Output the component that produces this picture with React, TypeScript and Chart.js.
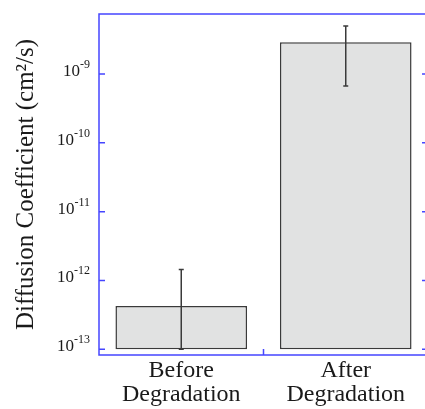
import React, { useEffect, useRef } from 'react';
import { Chart, registerables } from 'chart.js';
Chart.register(...registerables);

const CATEGORIES = [['Before', 'Degradation'], ['After', 'Degradation']];
const VALUES = [4.26e-13, 2.89e-9];
const ERR_LOW = [1e-13, 6.7e-10];
const ERR_HIGH = [1.44e-12, 4.99e-9];
const BAR_BASE = 1e-13;
const Y_MIN = 8.26e-14;
const Y_MAX = 7.45e-9;
const Y_TICKS = [1e-13, 1e-12, 1e-11, 1e-10, 1e-9];
const Y_TICK_EXPONENTS = ['-13', '-12', '-11', '-10', '-9'];
const Y_TITLE = 'Diffusion Coefficient (cm²/s)';

const FONT = "'Liberation Serif', 'Times New Roman', serif";
const AXIS_COLOR = 'rgb(70,70,255)';
const TEXT_COLOR = '#1a1a1a';

const framePlugin = {
  id: 'frameAndErrors',
  afterDatasetsDraw(chart: any) {
    const { ctx } = chart;
    const x = chart.scales.x;
    const y = chart.scales.y;
    ctx.save();
    ctx.strokeStyle = '#3a3a3a';
    ctx.lineWidth = 1.5;
    VALUES.forEach((_, i) => {
      const px = x.getPixelForValue(i);
      const top = y.getPixelForValue(ERR_HIGH[i]);
      const bot = y.getPixelForValue(ERR_LOW[i]);
      ctx.beginPath();
      ctx.moveTo(px, top);
      ctx.lineTo(px, bot);
      ctx.moveTo(px - 2.5, top);
      ctx.lineTo(px + 2.5, top);
      ctx.moveTo(px - 2.5, bot);
      ctx.lineTo(px + 2.5, bot);
      ctx.stroke();
    });
    ctx.restore();
  },
  afterDraw(chart: any) {
    const { ctx, chartArea: a } = chart;
    const x = chart.scales.x;
    const y = chart.scales.y;
    ctx.save();
    ctx.strokeStyle = AXIS_COLOR;
    ctx.lineWidth = 1.5;
    ctx.beginPath();
    ctx.rect(a.left, a.top, a.right - a.left, a.bottom - a.top);
    ctx.stroke();
    ctx.beginPath();
    Y_TICKS.forEach((t) => {
      const py = y.getPixelForValue(t);
      ctx.moveTo(a.left, py);
      ctx.lineTo(a.left + 6, py);
      ctx.moveTo(a.right, py);
      ctx.lineTo(a.right - 6, py);
    });
    for (let i = 0; i < CATEGORIES.length - 1; i++) {
      const px = x.getPixelForValue(i + 0.5);
      ctx.moveTo(px, a.bottom);
      ctx.lineTo(px, a.bottom - 6);
    }
    ctx.stroke();

    ctx.fillStyle = TEXT_COLOR;
    ctx.textBaseline = 'alphabetic';
    ctx.textAlign = 'left';
    const right = a.left - 9;
    Y_TICKS.forEach((t, i) => {
      const py = y.getPixelForValue(t);
      ctx.font = `12px ${FONT}`;
      const wExp = ctx.measureText(Y_TICK_EXPONENTS[i]).width;
      ctx.font = `17px ${FONT}`;
      const wBase = ctx.measureText('10').width;
      ctx.fillText('10', right - wExp - wBase, py + 2);
      ctx.font = `12px ${FONT}`;
      ctx.fillText(Y_TICK_EXPONENTS[i], right - wExp, py - 6);
    });
    ctx.restore();
  },
};

export default function App() {
  const ref = useRef<HTMLCanvasElement>(null);
  useEffect(() => {
    if (!ref.current) return;
    const chart = new Chart(ref.current, {
      type: 'bar',
      data: {
        labels: CATEGORIES as any,
        datasets: [
          {
            data: VALUES,
            base: BAR_BASE,
            backgroundColor: '#e1e2e2',
            borderColor: '#3a3a3a',
            borderWidth: 1.5,
            borderSkipped: false,
            barPercentage: 0.8,
            categoryPercentage: 1.0,
          } as any,
        ],
      },
      options: {
        animation: false,
        responsive: false,
        devicePixelRatio: 1,
        layout: { padding: { top: 14, left: 0, right: 0, bottom: 0 } },
        plugins: { legend: { display: false }, tooltip: { enabled: false } },
        scales: {
          x: {
            type: 'category',
            offset: true,
            grid: { display: false },
            border: { display: false },
            ticks: {
              color: TEXT_COLOR,
              padding: -4,
              maxRotation: 0,
              font: { family: FONT, size: 24, lineHeight: 1.0 },
            },
            afterFit(s: any) {
              s.height = 54;
            },
          },
          y: {
            type: 'logarithmic',
            min: Y_MIN,
            max: Y_MAX,
            grid: { display: false },
            border: { display: false },
            ticks: { display: false },
            title: {
              display: true,
              text: Y_TITLE,
              color: TEXT_COLOR,
              font: { family: FONT, size: 25 },
              padding: { top: 11, bottom: 0 },
            },
            afterFit(s: any) {
              s.width = 99;
            },
          },
        },
      },
      plugins: [framePlugin],
    });
    return () => chart.destroy();
  }, []);
  return (
    <div style={{ position: 'fixed', left: 0, top: 0, width: 425, height: 409, overflow: 'hidden', background: '#fff' }}>
      <canvas ref={ref} width={428} height={409} style={{ width: 428, height: 409, display: 'block' }} />
    </div>
  );
}
